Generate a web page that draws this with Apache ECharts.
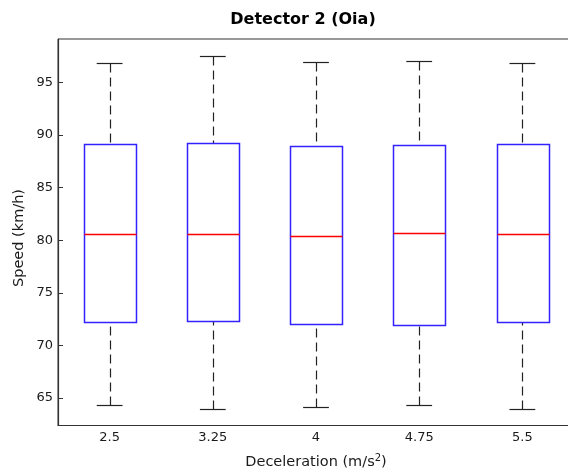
<!DOCTYPE html>
<html>
<head>
<meta charset="utf-8">
<script src="https://cdn.jsdelivr.net/npm/echarts@6/dist/echarts.min.js"></script>
<style>
  html, body { margin: 0; padding: 0; background: #fff; overflow: hidden; }
  #chart { width: 575px; height: 475px; }
</style>
</head>
<body>
<div id="chart"></div>
<script>
// Deceleration levels on the x axis
const categories = ['2.5', '3.25', '4', '4.75', '5.5'];
// Box statistics of speed (km/h) per deceleration level
const lowerWhisker = [64.3, 64.0, 64.17, 64.3, 63.98];
const q1 = [72.19, 72.32, 72.06, 71.9, 72.19];
const median = [80.54, 80.54, 80.41, 80.66, 80.54];
const q3 = [89.13, 89.25, 88.94, 89.03, 89.13];
const upperWhisker = [96.78, 97.48, 96.91, 97.03, 96.81];
// Y axis tick labels
const yTicks = [65, 70, 75, 80, 85, 90, 95];

const FONT = 'DejaVu Sans';
const AXIS_COLOR = '#333';
const TEXT_COLOR = '#1a1a1a';

const boxData = categories.map((c, i) => [i, lowerWhisker[i], q1[i], median[i], q3[i], upperWhisker[i]]);

function crisp(v) { return Math.round(v) + 0.5; }

function renderBox(params, api) {
  const idx = api.value(0);
  const band = api.size([1, 0])[0];
  const cx = api.coord([idx, 0])[0];
  const y = (k) => api.coord([idx, api.value(k)])[1];
  const yLo = crisp(y(1)), yQ1 = crisp(y(2)), yMed = crisp(y(3)), yQ3 = crisp(y(4)), yHi = crisp(y(5));
  const half = band * 0.25;
  const capHalf = band * 0.125;
  const x = crisp(cx);
  const left = crisp(cx - half);
  const right = left + Math.round(2 * half);
  const dashStyle = () => ({ stroke: '#222', lineWidth: 1.2, lineDash: [9, 5], fill: null });
  const capStyle = () => ({ stroke: '#222', lineWidth: 1.2, fill: null });
  return {
    type: 'group',
    children: [
      { type: 'line', shape: { x1: x, y1: yHi, x2: x, y2: yQ3 }, style: dashStyle() },
      { type: 'line', shape: { x1: x, y1: yLo, x2: x, y2: yQ1 }, style: dashStyle() },
      { type: 'line', shape: { x1: cx - capHalf, y1: yHi, x2: cx + capHalf, y2: yHi }, style: capStyle() },
      { type: 'line', shape: { x1: cx - capHalf, y1: yLo, x2: cx + capHalf, y2: yLo }, style: capStyle() },
      { type: 'rect', shape: { x: left, y: yQ3, width: right - left, height: yQ1 - yQ3 },
        style: { stroke: '#3322ff', lineWidth: 1.5, fill: '#fff' } },
      { type: 'line', z2: 10, shape: { x1: left, y1: yMed, x2: right, y2: yMed },
        style: { stroke: '#ff0000', lineWidth: 1.5, fill: null } }
    ]
  };
}

const chart = echarts.init(document.getElementById('chart'), null, { renderer: 'canvas' });
chart.setOption({
  animation: false,
  backgroundColor: '#fff',
  graphic: [{
    type: 'text',
    x: 303,
    y: 20,
    style: {
      text: 'Detector 2 (Oia)',
      font: 'bold 16px "DejaVu Sans"',
      fill: '#000',
      align: 'center',
      verticalAlign: 'middle'
    }
  }, {
    type: 'text',
    x: 19,
    y: 238,
    rotation: Math.PI / 2,
    style: {
      text: 'Speed (km/h)',
      font: '14.5px "DejaVu Sans"',
      fill: TEXT_COLOR,
      align: 'center',
      verticalAlign: 'middle'
    }
  }],
  grid: {
    left: 58, right: 1, top: 39, bottom: 49,
    show: true, borderColor: AXIS_COLOR, borderWidth: 1, backgroundColor: 'transparent'
  },
  xAxis: {
    type: 'category',
    data: categories,
    boundaryGap: true,
    axisLine: { lineStyle: { color: AXIS_COLOR, width: 1.2 } },
    axisTick: { show: false },
    axisLabel: { fontFamily: FONT, fontSize: 13, color: TEXT_COLOR, margin: 6 },
    name: 'Deceleration (m/s{sup|2})',
    nameLocation: 'middle',
    nameGap: 28,
    nameTextStyle: {
      fontFamily: FONT, fontSize: 14.5, color: TEXT_COLOR,
      rich: { sup: { fontFamily: FONT, fontSize: 10, color: TEXT_COLOR, verticalAlign: 'top', padding: [0, 0, 8, 0] } }
    },
    splitLine: { show: false }
  },
  yAxis: [{
    type: 'value',
    min: 62.4,
    max: 99.1,
    axisLine: { show: true, lineStyle: { color: AXIS_COLOR, width: 1.2 } },
    axisTick: { show: true, inside: true, length: 5, lineStyle: { color: AXIS_COLOR }, customValues: yTicks },
    axisLabel: { fontFamily: FONT, fontSize: 13, color: TEXT_COLOR, margin: 5, customValues: yTicks },
    splitLine: { show: false }
  }, {
    type: 'value',
    position: 'right',
    min: 62.4,
    max: 99.1,
    axisLine: { show: true, lineStyle: { color: AXIS_COLOR } },
    axisTick: { show: true, inside: true, length: 6, lineStyle: { color: AXIS_COLOR }, customValues: yTicks },
    axisLabel: { show: false },
    splitLine: { show: false }
  }],
  series: [{
    type: 'custom',
    renderItem: renderBox,
    encode: { x: 0, y: [1, 2, 3, 4, 5] },
    data: boxData
  }]
});
</script>
</body>
</html>
